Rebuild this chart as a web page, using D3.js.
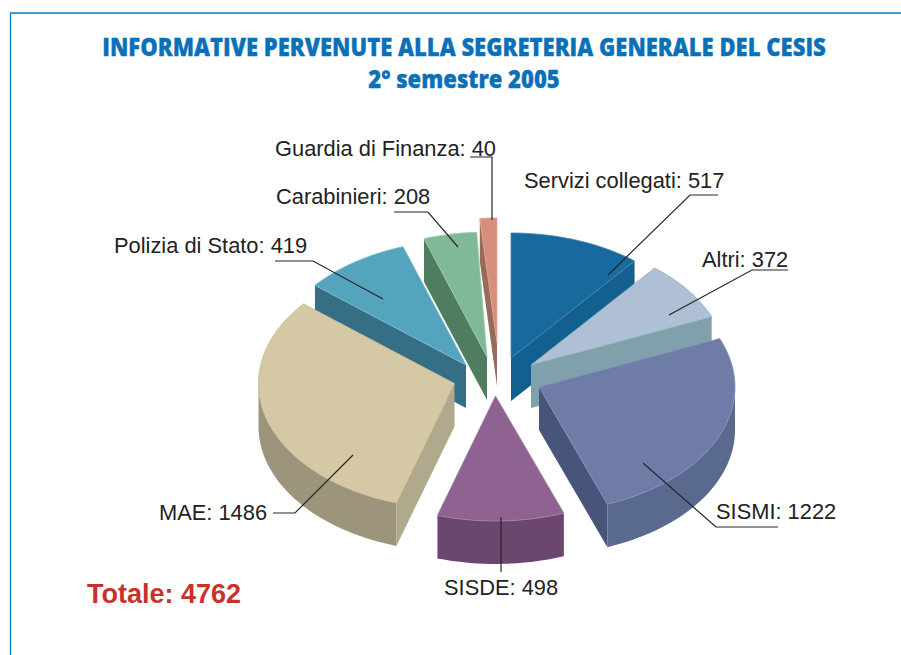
<!DOCTYPE html>
<html><head><meta charset="utf-8">
<script src="https://cdn.jsdelivr.net/npm/d3@7"></script>
<style>html,body{margin:0;padding:0;background:#fff}svg{display:block}</style>
</head><body><div id="c"></div>
<script>
const categories = ["Servizi collegati","Altri","SISMI","SISDE","MAE","Polizia di Stato","Carabinieri","Guardia di Finanza"];
const values = [517,372,1222,498,1486,419,208,40];
const titleLines = ["INFORMATIVE PERVENUTE ALLA SEGRETERIA GENERALE DEL CESIS","2° semestre 2005"];
const totalLabel = "Totale: 4762";

// layout
const W=901,H=655,RX=196,RY=125,DEPTH=43;
const apexX=[511,531,539,495.5,454.5,466,487,497];
const apexY=[358,365,387,396,383.5,365,357,343];
const topCol=["#186a9e","#afbfd6","#6e7ca7","#8f6391","#d5c9a5","#53a4bc","#80b996","#d68f7a"];
const edgeCol=["#3f87b0","#8fb9c2","#8492b8","#a67ea8","#c9bd98","#7cbdd0","#9bcbae","#e0a592"];
const radCol=["#135f8f","#80a1ab","#47557a","#6b466f","#b1a98c","#346f86","#507c60","#976a5b"];
const arcCol=["#135f8f","#80a1ab","#5a6a8f","#6b466f","#9c957c","#346f86","#507c60","#976a5b"];
const extraSweep=[0,0,0,0,0,0,0,2]; // degrees widened at the start of thin slice
const drawOrder=[7,6,0,1,5,2,4,3];
const labelPos=[[524,188],[702,267],[716,519],[444,595],[159,520],[114,253],[276,204],[275,156]];
const leaders=[
 [[718,195],[690,195],[608,275]],
 [[788,270],[752,270],[669,315]],
 [[778,527],[716,527],[643,463]],
 [[501,572],[501,517]],
 [[273,513],[295,513],[353,455]],
 [[275,261],[313,261],[383,299]],
 [[394,212],[428,212],[458,247]],
 [[470,157],[492,157],[492,220]]
];

const svg=d3.select("#c").append("svg").attr("width",W).attr("height",H);
const frame=d3.line();
svg.append("path").attr("d",frame([[10.5,H],[10.5,13],[W,13]])).attr("fill","none").attr("stroke","#0a78c8").attr("stroke-width",1.3);

const pie=d3.pie().sort(null).value(d=>d)(values);
const line=d3.line();
const deg=Math.PI/180;
const pt=(i,a,dy=0)=>[apexX[i]+RX*Math.sin(a),apexY[i]-RY*Math.cos(a)+dy];
const arcPts=(i,a0,a1,dy=0)=>{const n=Math.max(2,Math.ceil(Math.abs(a1-a0)/(2*deg)));
  return d3.range(n+1).map(k=>pt(i,a0+(a1-a0)*k/n,dy));};

const g=svg.append("g");
drawOrder.forEach(i=>{
  const s=pie[i], a0=s.startAngle-extraSweep[i]*deg, a1=s.endAngle, ap=[apexX[i],apexY[i]], apB=[apexX[i],apexY[i]+DEPTH];
  const sl=g.append("g");
  const face=(a)=>line([ap,pt(i,a),pt(i,a,DEPTH),apB])+"Z";
  if(Math.sin(a0)<0) sl.append("path").attr("d",face(a0)).attr("fill",radCol[i]);
  if(Math.sin(a1)>0) sl.append("path").attr("d",face(a1)).attr("fill",radCol[i]);
  const v0=Math.max(a0,Math.PI/2), v1=Math.min(a1,1.5*Math.PI);
  if(v1>v0) sl.append("path").attr("d",line(arcPts(i,v0,v1).concat(arcPts(i,v1,v0,DEPTH)))+"Z").attr("fill",arcCol[i]);
  sl.append("path").attr("d",line([ap].concat(arcPts(i,a0,a1)))+"Z")
    .attr("fill",topCol[i]).attr("stroke",edgeCol[i]).attr("stroke-width",0.8).attr("stroke-linejoin","round");
});

leaders.forEach(p=>svg.append("path").attr("d",line(p)).attr("fill","none").attr("stroke","#262626").attr("stroke-width",1.2));

categories.forEach((c,i)=>{
  svg.append("text").attr("x",labelPos[i][0]).attr("y",labelPos[i][1])
    .attr("font-family","Liberation Sans").attr("font-size",21.85).attr("fill","#222")
    .text(c+": "+values[i]);
});
const titleSpec=[[464,56],[464,88]];
titleLines.forEach((t,i)=>{
  svg.append("text").attr("transform",`translate(${titleSpec[i][0]},${titleSpec[i][1]}) scale(0.882,1)`).attr("text-anchor","middle")
    .attr("font-family","Open Sans").attr("font-weight",800).attr("font-size",25).attr("fill","#0a70b8")
    .attr("stroke","#0a70b8").attr("stroke-width",0.3).text(t);
});
svg.append("text").attr("x",87).attr("y",603).attr("font-family","Liberation Sans").attr("font-weight",700)
  .attr("font-size",27).attr("fill","#c8322b").text(totalLabel);
</script></body></html>
